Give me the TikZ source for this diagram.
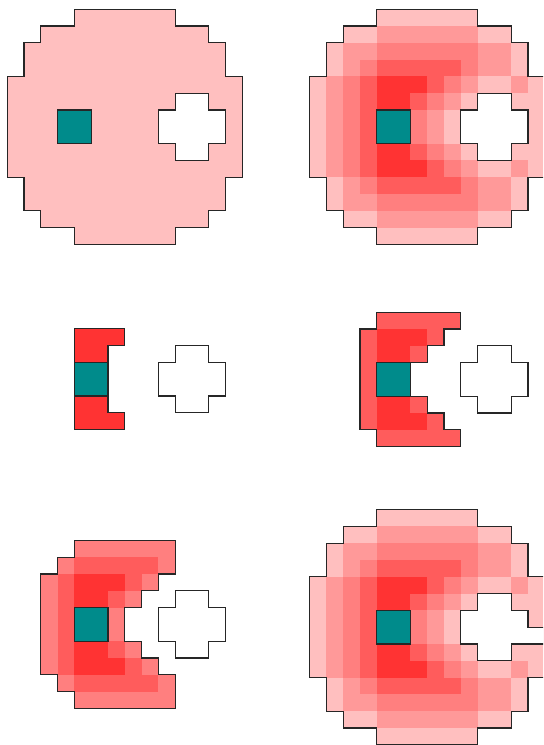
\documentclass[tikz,border=0pt]{standalone}
\definecolor{dA}{HTML}{FF3333}
\definecolor{dB}{HTML}{FF5C5C}
\definecolor{dC}{HTML}{FF7F7F}
\definecolor{dD}{HTML}{FF9999}
\definecolor{dE}{HTML}{FFBFBF}
\definecolor{tealc}{HTML}{008B8B}
\tikzset{
  edge/.style={draw=black!85, line width=0.9pt, line join=miter},
  panel/.style={x=12.6pt, y=-12.6pt},
  hole/.style={edge, fill=white},
  source/.style={edge, fill=tealc}
}
% a run of cells in row #1 and its mirror row 13-#1
\newcommand\sym[4]{\fill[#4] (#2,#1) rectangle (#3,#1+1); \fill[#4] (#2,13-#1) rectangle (#3,14-#1);}
\newcommand\ringA{\sym{4}{4}{7}{dA}\sym{5}{4}{6}{dA}}
\newcommand\ringB{\sym{3}{4}{9}{dB}\sym{4}{3}{4}{dB}\sym{4}{7}{8}{dB}\sym{5}{3}{4}{dB}\sym{5}{6}{7}{dB}\sym{6}{3}{4}{dB}}
\newcommand\ringC{\sym{2}{4}{10}{dC}\sym{3}{3}{4}{dC}\sym{3}{9}{10}{dC}\sym{4}{2}{3}{dC}\sym{4}{8}{9}{dC}\sym{5}{2}{3}{dC}\sym{5}{7}{8}{dC}\sym{6}{2}{3}{dC}\sym{6}{6}{7}{dC}}
\newcommand\ringD{\sym{1}{4}{10}{dD}\sym{2}{2}{4}{dD}\sym{2}{10}{12}{dD}\sym{3}{2}{3}{dD}\sym{3}{10}{12}{dD}\sym{4}{1}{2}{dD}\sym{4}{9}{10}{dD}\sym{4}{12}{13}{dD}\sym{5}{1}{2}{dD}\sym{5}{8}{9}{dD}\sym{6}{1}{2}{dD}\sym{6}{7}{8}{dD}}
\newcommand\ringE{\sym{0}{4}{10}{dE}\sym{1}{2}{4}{dE}\sym{1}{10}{12}{dE}\sym{2}{1}{2}{dE}\sym{2}{12}{13}{dE}\sym{3}{1}{2}{dE}\sym{3}{12}{13}{dE}\sym{4}{0}{1}{dE}\sym{4}{10}{12}{dE}\sym{4}{13}{14}{dE}\sym{5}{0}{1}{dE}\sym{5}{9}{10}{dE}\sym{5}{12}{14}{dE}\sym{6}{0}{1}{dE}\sym{6}{8}{9}{dE}\sym{6}{13}{14}{dE}}
\newcommand\discline[1]{\draw[#1] (4,0) -- (10,0) -- (10,1) -- (12,1) -- (12,2) -- (13,2) -- (13,4) -- (14,4) -- (14,10) -- (13,10) -- (13,12) -- (12,12) -- (12,13) -- (10,13) -- (10,14) -- (4,14) -- (4,13) -- (2,13) -- (2,12) -- (1,12) -- (1,10) -- (0,10) -- (0,4) -- (1,4) -- (1,2) -- (2,2) -- (2,1) -- (4,1) -- cycle;}
\newcommand\crossline[1]{\draw[#1] (10,5) -- (12,5) -- (12,6) -- (13,6) -- (13,8) -- (12,8) -- (12,9) -- (10,9) -- (10,8) -- (9,8) -- (9,6) -- (10,6) -- cycle;}
\begin{document}
\begin{tikzpicture}[x=0.75pt, y=-0.75pt]
\clip (0,0) rectangle (543,745);
\fill[white] (0,0) rectangle (543,745);
% panel 1: the domain
\begin{scope}[shift={(7.2,9.3)}, panel]
  \discline{edge, fill=dE}
  \crossline{hole}
  \draw[source] (3,6) rectangle (5,8);
\end{scope}
% panel 2: full field
\begin{scope}[shift={(309.6,9.3)}, panel]
  \ringA\ringB\ringC\ringD\ringE
  \discline{edge}
  \crossline{hole}
  \draw[source] (4,6) rectangle (6,8);
\end{scope}
% panel 3: first front
\begin{scope}[shift={(7.1,261.5)}, panel]
  \ringA
  \draw[edge] (4,4) -- (7,4) -- (7,5) -- (6,5) -- (6,9) -- (7,9) -- (7,10) -- (4,10) -- cycle;
  \crossline{hole}
  \draw[source] (4,6) rectangle (6,8);
\end{scope}
% panel 4: second front
\begin{scope}[shift={(309.6,261.7)}, panel]
  \ringA\ringB
  \draw[edge] (4,3) -- (9,3) -- (9,4) -- (8,4) -- (8,5) -- (7,5) -- (7,6) -- (6,6) -- (6,8) -- (7,8) -- (7,9) -- (8,9) -- (8,10) -- (9,10) -- (9,11) -- (4,11) -- (4,10) -- (3,10) -- (3,4) -- (4,4) -- cycle;
  \crossline{hole}
  \draw[source] (4,6) rectangle (6,8);
\end{scope}
% panel 5: third front
\begin{scope}[shift={(7.1,506.7)}, panel]
  \ringA\ringB\ringC
  \draw[edge] (4,2) -- (10,2) -- (10,4) -- (9,4) -- (9,5) -- (8,5) -- (8,6) -- (7,6) -- (7,8) -- (8,8) -- (8,9) -- (9,9) -- (9,10) -- (10,10) -- (10,12) -- (4,12) -- (4,11) -- (3,11) -- (3,10) -- (2,10) -- (2,4) -- (3,4) -- (3,3) -- (4,3) -- cycle;
  \crossline{hole}
  \draw[source] (4,6) rectangle (6,8);
\end{scope}
% panel 6: final field
\begin{scope}[shift={(309.6,509.5)}, panel]
  \ringA\ringB\ringC\ringD\ringE
  \discline{edge}
  \draw[hole] (10,5) -- (12,5) -- (12,6) -- (13,6) -- (13,7) -- (14,7) -- (14,8) -- (12,8) -- (12,9) -- (10,9) -- (10,8) -- (9,8) -- (9,6) -- (10,6) -- cycle;
  \draw[source] (4,6) rectangle (6,8);
\end{scope}
\end{tikzpicture}
\end{document}
